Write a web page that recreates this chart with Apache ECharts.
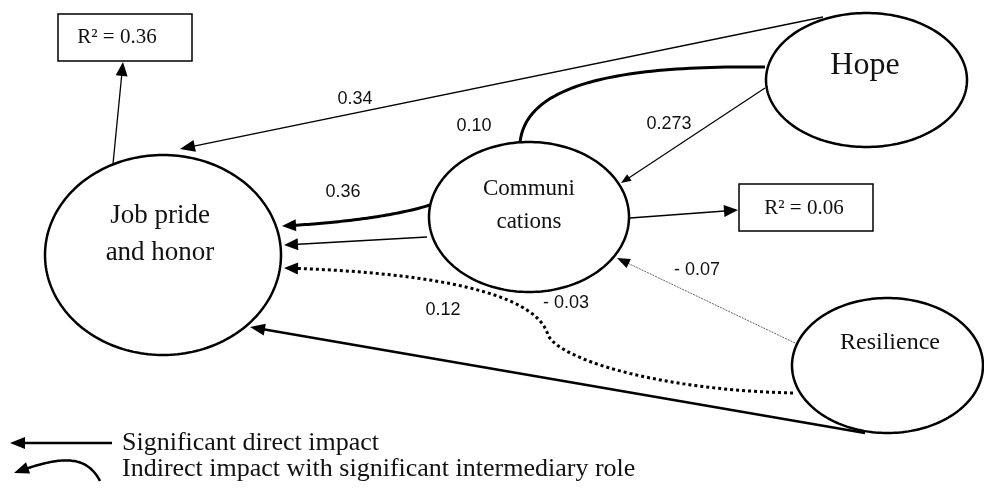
<!DOCTYPE html>
<html><head><meta charset="utf-8">
<script src="https://cdn.jsdelivr.net/npm/echarts@6/dist/echarts.min.js"></script>
<style>html,body{margin:0;padding:0;background:#fff}#c{width:984px;height:491px}</style>
</head><body><div id="c"></div>
<script>
// ---- content ----
const nodeNames = ['Job pride\nand honor', 'Communi\ncations', 'Hope', 'Resilience'];
const rSquaredLabels = ['R\u00b2 = 0.36', 'R\u00b2 = 0.06'];
const pathCoefficients = ['0.34', '0.10', '0.273', '0.36', '0.12', '- 0.03', '- 0.07'];
const legendLabels = ['Significant direct impact', 'Indirect impact with significant intermediary role'];

// ---- layout (diagram coordinates, px of a 984x491 canvas) ----
const nodeLayout = [
  {cx:163, cy:255, rx:118, ry:100, tx:160, ty:234, fs:27, lh:37},
  {cx:529, cy:217, rx:100, ry:75, tx:529, ty:205, fs:23, lh:33},
  {cx:866.5, cy:80, rx:100.5, ry:67, tx:865, ty:66, fs:32, lh:36},
  {cx:887.5, cy:365.5, rx:95.5, ry:67.5, tx:890, ty:343, fs:24, lh:28}
];
const boxLayout = [
  {x:58, y:14, w:134, h:47, tx:117, ty:37},
  {x:739, y:184, w:134, h:47, tx:804, ty:208}
];
const coefLayout = [[355,99],[474,126],[669,124],[343,192],[443,310],[566,303],[697,270]];
const edgeLayout = [
  {pts:[[113,164],[123,62]], w:1.3, arrow:[14,6]},
  {pts:[[823,17],[180,149]], w:1.3, arrow:[15,6]},
  {pts:[[765,67],[600,65],[525,90],[520,143]], curve:true, w:3},
  {pts:[[765,88],[621,183]], w:1.2, arrow:[10,4]},
  {pts:[[430,205],[395,216],[340,223],[282,226]], curve:true, w:3, arrow:[14,6]},
  {pts:[[427,237],[284,245]], w:1.6, arrow:[14,6]},
  {pts:[[793,393],[660,390],[560,360],[548,335],[535,290],[420,272],[284,268]], curve:true, w:3, dash:[3,3], arrow:[14,6]},
  {pts:[[795,343],[617,258]], w:1, dash:[2,1], color:'#666', arrow:[13,5]},
  {pts:[[865,433],[250,327]], w:2.6, arrow:[15,6]},
  {pts:[[630,218],[738,210]], w:1.5, arrow:[14,6]}
];
const legendEdgeLayout = [
  {pts:[[112,443],[10,443]], w:2.5, arrow:[15,6]},
  {pts:[[100,481],[86,454],[60,456],[14,473]], curve:true, w:2.5, arrow:[15,6]}
];
const legendTextLayout = [[122,443],[122,469]];

const SERIF = '"Liberation Serif","Times New Roman",serif';
const SANS = '"Liberation Sans",Arial,sans-serif';

function sampleCubic(p0,p1,p2,p3,n,out){
  for(let k=(out.length?1:0);k<=n;k++){
    const t=k/n, u=1-t;
    out.push([u*u*u*p0[0]+3*u*u*t*p1[0]+3*u*t*t*p2[0]+t*t*t*p3[0],
              u*u*u*p0[1]+3*u*u*t*p1[1]+3*u*t*t*p2[1]+t*t*t*p3[1]]);
  }
  return out;
}
function edgeRender(list){
  return function(params, api){
    const e = list[params.dataIndex];
    const P = e.pts.map(p=>api.coord(p));
    let line;
    let dirFrom;
    if(e.curve){
      line=[];
      for(let s=0;s+3<P.length;s+=3){ sampleCubic(P[s],P[s+1],P[s+2],P[s+3],60,line); }
      dirFrom = P[P.length-2];
    } else { line=[P[0],P[1]]; dirFrom=P[0]; }
    const children=[];
    const color = e.color || '#000';
    const tip = P[P.length-1];
    if(e.arrow){
      const dx=tip[0]-dirFrom[0], dy=tip[1]-dirFrom[1], d=Math.hypot(dx,dy);
      const ux=dx/d, uy=dy/d, L=e.arrow[0], H=e.arrow[1];
      const bx=tip[0]-ux*L, by=tip[1]-uy*L;
      const cut = L*0.7;
      while(line.length>2 && Math.hypot(line[line.length-1][0]-tip[0], line[line.length-1][1]-tip[1]) < cut) line.pop();
      line[line.length-1]=[tip[0]-ux*cut, tip[1]-uy*cut];
      children.push({type:'polyline', shape:{points:line}, style:{stroke:color, lineWidth:e.w, lineDash:e.dash||null, fill:null}});
      children.push({type:'polygon', shape:{points:[tip,[bx-uy*H,by+ux*H],[bx+uy*H,by-ux*H]]}, style:{fill:'#000'}});
    } else {
      children.push({type:'polyline', shape:{points:line}, style:{stroke:color, lineWidth:e.w, lineDash:e.dash||null, fill:null}});
    }
    return {type:'group', children};
  };
}

const chart = echarts.init(document.getElementById('c'));
chart.setOption({
  animation:false,
  backgroundColor:'#fff',
  grid:{left:0,right:0,top:0,bottom:0},
  xAxis:{type:'value', min:0, max:984, show:false},
  yAxis:{type:'value', min:0, max:491, inverse:true, show:false},
  series:[
    {type:'custom', clip:false, silent:true, data:edgeLayout.map(e=>e.pts[0]), renderItem:edgeRender(edgeLayout)},
    {type:'custom', clip:false, silent:true, data:legendEdgeLayout.map(e=>e.pts[0]), renderItem:edgeRender(legendEdgeLayout)},
    {type:'custom', clip:false, silent:true, data:nodeLayout.map(n=>[n.cx,n.cy]),
      renderItem:function(params, api){
        const i=params.dataIndex, L=nodeLayout[i];
        const c=api.coord([L.cx,L.cy]);
        const s=api.size([L.rx,L.ry]);
        const rx=Math.abs(s[0]), ry=Math.abs(s[1]);
        const pts=[];
        for(let k=0;k<200;k++){const a=k/200*2*Math.PI; pts.push([c[0]+rx*Math.cos(a), c[1]+ry*Math.sin(a)]);}
        const t=api.coord([L.tx,L.ty]);
        return {type:'group', children:[
          {type:'polygon', shape:{points:pts}, style:{fill:null, stroke:'#000', lineWidth:2.5}},
          {type:'text', style:{text:nodeNames[i], x:t[0], y:t[1], align:'center', verticalAlign:'middle',
            fontFamily:SERIF, fontSize:L.fs, lineHeight:L.lh, fill:'#111'}}
        ]};
      }},
    {type:'custom', clip:false, silent:true, data:boxLayout.map(b=>[b.x,b.y]),
      renderItem:function(params, api){
        const i=params.dataIndex, B=boxLayout[i];
        const p=api.coord([B.x,B.y]), s=api.size([B.w,B.h]);
        const t=api.coord([B.tx,B.ty]);
        return {type:'group', children:[
          {type:'rect', shape:{x:p[0],y:p[1],width:Math.abs(s[0]),height:Math.abs(s[1])}, style:{fill:'#fff', stroke:'#000', lineWidth:1.5}},
          {type:'text', style:{text:rSquaredLabels[i], x:t[0], y:t[1], align:'center', verticalAlign:'middle',
            fontFamily:SERIF, fontSize:21, fill:'#111'}}
        ]};
      }},
    {type:'custom', clip:false, silent:true, data:coefLayout,
      renderItem:function(params, api){
        const i=params.dataIndex; const t=api.coord(coefLayout[i]);
        return {type:'text', style:{text:pathCoefficients[i], x:t[0], y:t[1], align:'center', verticalAlign:'middle',
          fontFamily:SANS, fontSize:18, fill:'#111'}};
      }},
    {type:'custom', clip:false, silent:true, data:legendTextLayout,
      renderItem:function(params, api){
        const i=params.dataIndex; const t=api.coord(legendTextLayout[i]);
        return {type:'text', style:{text:legendLabels[i], x:t[0], y:t[1], align:'left', verticalAlign:'middle',
          fontFamily:SERIF, fontSize:26, fill:'#111'}};
      }}
  ]
});
</script></body></html>
